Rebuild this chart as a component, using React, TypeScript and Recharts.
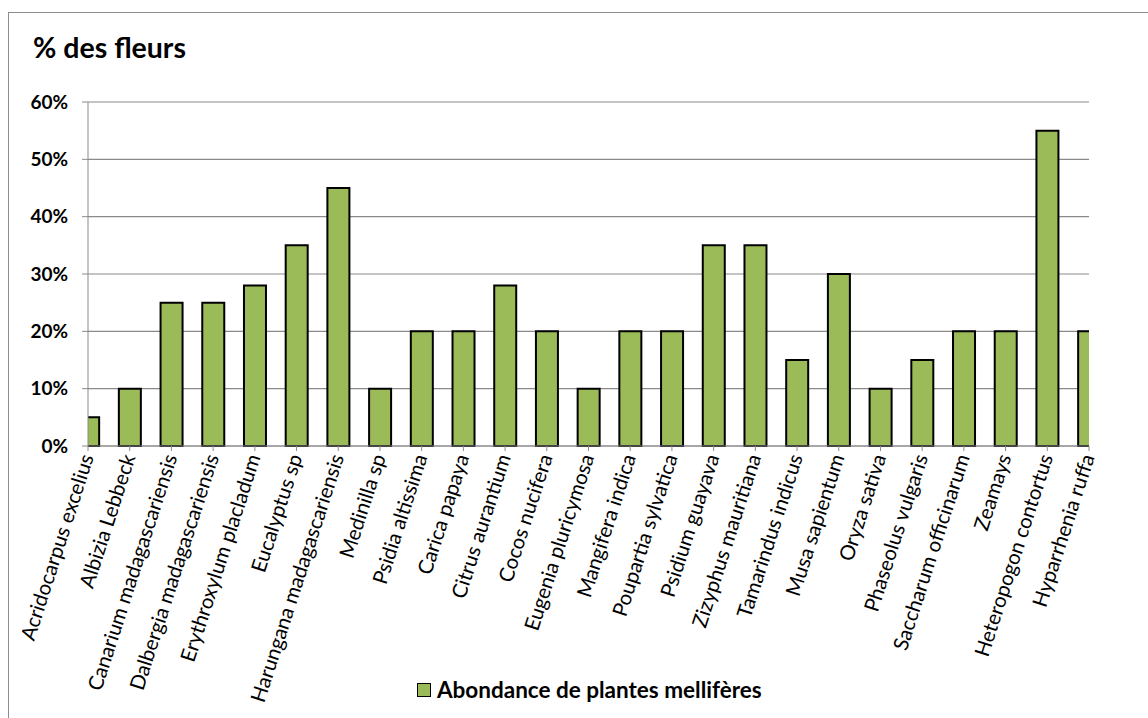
import React from 'react';
import { BarChart, Bar, XAxis, YAxis, CartesianGrid, Legend } from 'recharts';

const categories: string[] = [
  'Acridocarpus excelius', 'Albizia Lebbeck', 'Canarium madagascariensis', 'Dalbergia madagascariensis',
  'Erythroxylum placladum', 'Eucalyptus sp', 'Harungana madagascariensis', 'Medinilla sp',
  'Psidia altissima', 'Carica papaya', 'Citrus aurantium', 'Cocos nucifera', 'Eugenia pluricymosa',
  'Mangifera indica', 'Poupartia sylvatica', 'Psidium guayava', 'Zizyphus mauritiana',
  'Tamarindus indicus', 'Musa sapientum', 'Oryza sativa', 'Phaseolus vulgaris',
  'Saccharum officinarum', 'Zeamays', 'Heteropogon contortus', 'Hyparrhenia ruffa',
];
const abondance: number[] = [5, 10, 25, 25, 28, 35, 45, 10, 20, 20, 28, 20, 10, 20, 20, 35, 35, 15, 30, 10, 15, 20, 20, 55, 20];
const yTicks: number[] = [0, 10, 20, 30, 40, 50, 60];
const seriesName = 'Abondance de plantes mellifères';
const titleText = '% des fleurs';

const data = categories.map((name, i) => ({ idx: i, name, value: abondance[i] }));
const xTicks = categories.map((_, i) => i);

const FONT = 'Lato, "Open Sans", sans-serif';

const XTick = (props: any) => {
  const { x, y, payload } = props;
  const label = categories[payload.value] ?? '';
  const ax = x + 6;
  const ay = y + 2;
  return (
    <text
      x={ax}
      y={ay}
      transform={`rotate(-72, ${ax}, ${ay})`}
      textAnchor="end"
      fontSize={20.5}
      fontFamily={FONT}
      fill="#000"
    >
      {label}
    </text>
  );
};

const LegendContent = () => (
  <div style={{ display: 'flex', alignItems: 'center', fontFamily: FONT }}>
    <div style={{ width: 12, height: 12, background: '#9BBB59', border: '1.5px solid #000', marginRight: 6 }} />
    <span style={{ fontSize: 22.5, fontWeight: 'bold', color: '#000' }}>{seriesName}</span>
  </div>
);

export default function App() {
  return (
    <div style={{ position: 'absolute', left: 8, top: 12, width: 1140, height: 706, overflow: 'hidden' }}>
      <div style={{ position: 'relative', width: 1160, height: 730, border: '1px solid #8c8c8c', boxSizing: 'border-box' }}>
        <div style={{ position: 'absolute', left: 24, top: 17, fontFamily: FONT, fontWeight: 'bold', fontSize: 28.5, color: '#000', lineHeight: 1.2 }}>
          {titleText}
        </div>
        <BarChart width={1140} height={705} data={data} margin={{ top: 89, right: 60, left: 0, bottom: 65 }}>
          <CartesianGrid vertical={false} stroke="#8a8a8a" strokeWidth={1.2} />
          <XAxis
            dataKey="idx"
            type="number"
            domain={[0, 24]}
            ticks={xTicks}
            allowDataOverflow
            interval={0}
            height={180}
            tickSize={5}
            tickMargin={4}
            stroke="#8a8a8a"
            tick={<XTick />}
          />
          <YAxis
            domain={[0, 60]}
            ticks={yTicks}
            width={79}
            tickSize={6}
            tickMargin={14}
            stroke="#8a8a8a"
            tickFormatter={(v: number) => `${v}%`}
            tick={{ fill: '#000', fontSize: 19, fontWeight: 'bold', fontFamily: FONT }}
          />
          <Legend
            content={<LegendContent />}
            wrapperStyle={{ position: 'absolute', left: 408, top: 663, width: 'auto' }}
          />
          <Bar dataKey="value" name={seriesName} fill="#9BBB59" stroke="#000" strokeWidth={2} barSize={22} isAnimationActive={false} />
        </BarChart>
      </div>
    </div>
  );
}
